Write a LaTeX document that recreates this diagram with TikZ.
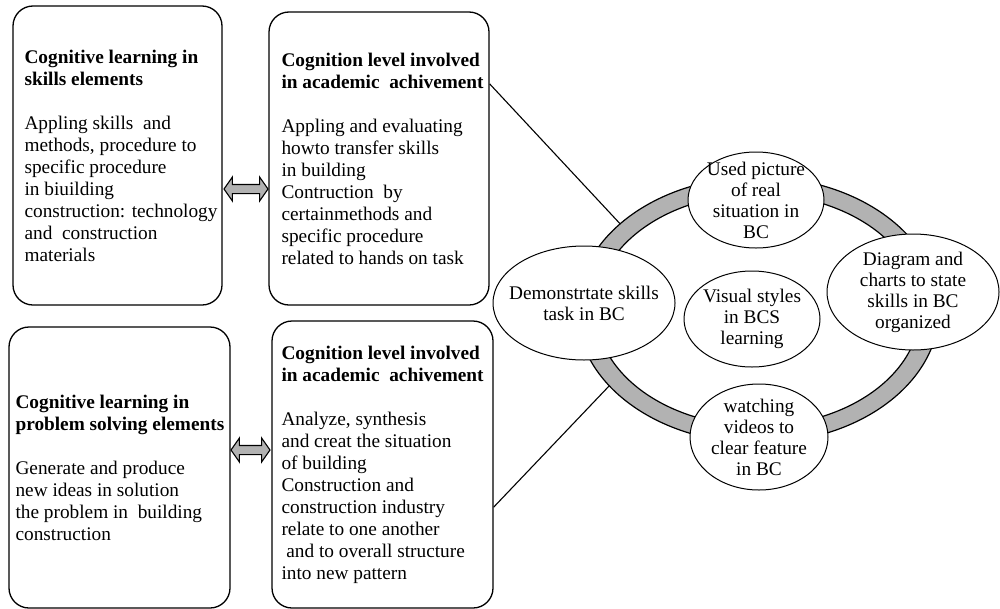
\documentclass[tikz,border=0pt]{standalone}
\usepackage{fontspec}
\setmainfont{Liberation Serif}
\usetikzlibrary{positioning,shapes.geometric,shapes.arrows}

\begin{document}
\begin{tikzpicture}[x=1pt, y=-1pt,
  box/.style={draw, line width=1.3pt, rounded corners=20pt, inner sep=0pt},
  boxtext/.style={align=left, inner sep=0pt, font=\fontsize{19.3}{22}\selectfont},
  ringband/.style={ellipse, draw, line width=1.2pt, inner sep=0pt, outer sep=0pt},
  bubble/.style={ellipse, draw, line width=1pt, fill=white, inner sep=0pt},
  bubbletext/.style={align=center, inner sep=0pt, font=\fontsize{19.3}{21}\selectfont},
  dblarrow/.style={double arrow, draw, line width=1.1pt, fill=gray!60, inner sep=4pt,
    double arrow head extend=7.5pt, double arrow tip angle=110},
  link/.style={line width=1.1pt}]
  \useasboundingbox (0,0) rectangle (1000,608);

  \node[box, minimum width=209pt, minimum height=299pt] (skills) at (117.5,155.5) {};
  \node[box, minimum width=220pt, minimum height=293pt] (levelA) at (379,158.5) {};
  \node[box, minimum width=221pt, minimum height=281pt] (problem) at (119.5,467.5) {};
  \node[box, minimum width=221pt, minimum height=287pt] (levelB) at (382.5,464.5) {};

  \node[boxtext, right=12pt of skills.west] (skillsT)
    {\textbf{Cognitive learning in}\\ \textbf{skills elements}\\[22pt]
     Appling skills\ \ and\\ methods, procedure to\\ specific procedure\\
     in biuilding\\ construction: technology\\ and\ \ construction\\ materials};
  \node[boxtext, right=13pt of levelA.west] (levelAT)
    {\textbf{Cognition level involved}\\ \textbf{in academic\ \ achivement}\\[22pt]
     Appling and evaluating\\ howto transfer skills\\ in building\\
     Contruction\ \ by\\ certainmethods and\\ specific procedure\\ related to hands on task};
  \node[boxtext, right=7pt of problem.west] (problemT)
    {\textbf{Cognitive learning in}\\ \textbf{problem solving elements}\\[22pt]
     Generate and produce\\ new ideas in solution\\ the problem in\ \ building\\ construction};
  \node[boxtext, right=10pt of levelB.west] (levelBT)
    {\textbf{Cognition level involved}\\ \textbf{in academic\ \ achivement}\\[22pt]
     Analyze, synthesis\\ and creat the situation\\ of building\\ Construction and\\
     construction industry\\ relate to one another\\ \ and to overall structure\\ into new pattern};

  \node[dblarrow, minimum height=44pt] (arrA) at (246,189) {};
  \node[dblarrow, minimum height=39pt] (arrB) at (250.5,450) {};

  \node[ringband, fill=gray!60, minimum width=362pt, minimum height=266pt] (ring) at (758,310) {};
  \node[ringband, fill=white, minimum width=324pt, minimum height=232pt] (ringin) at (ring) {};

  \draw[link] (levelA.34.5) -- (ring.148.7);
  \draw[link] (levelB.-21) -- (ring.207.2);

  \node[bubble, minimum width=136pt, minimum height=96pt] (picture) at (756,200) {};
  \node[bubble, minimum width=136pt, minimum height=96pt] (visual) at (752,319) {};
  \node[bubble, minimum width=172pt, minimum height=116pt] (charts) at (913,292) {};
  \node[bubble, minimum width=138pt, minimum height=106pt] (videos) at (759,437) {};
  \node[bubble, minimum width=182pt, minimum height=114pt] (demo) at (584,303) {};

  \node[bubbletext] at (picture) {Used picture\\ of real\\ situation in\\ BC};
  \node[bubbletext] at (visual) {Visual styles\\ in BCS\\ learning};
  \node[bubbletext] at (charts) {Diagram and\\ charts to state\\ skills in BC\\ organized};
  \node[bubbletext] at (videos) {watching\\ videos to\\ clear feature\\ in BC};
  \node[bubbletext] at (demo) {Demonstrtate skills\\ task in BC};
\end{tikzpicture}
\end{document}
